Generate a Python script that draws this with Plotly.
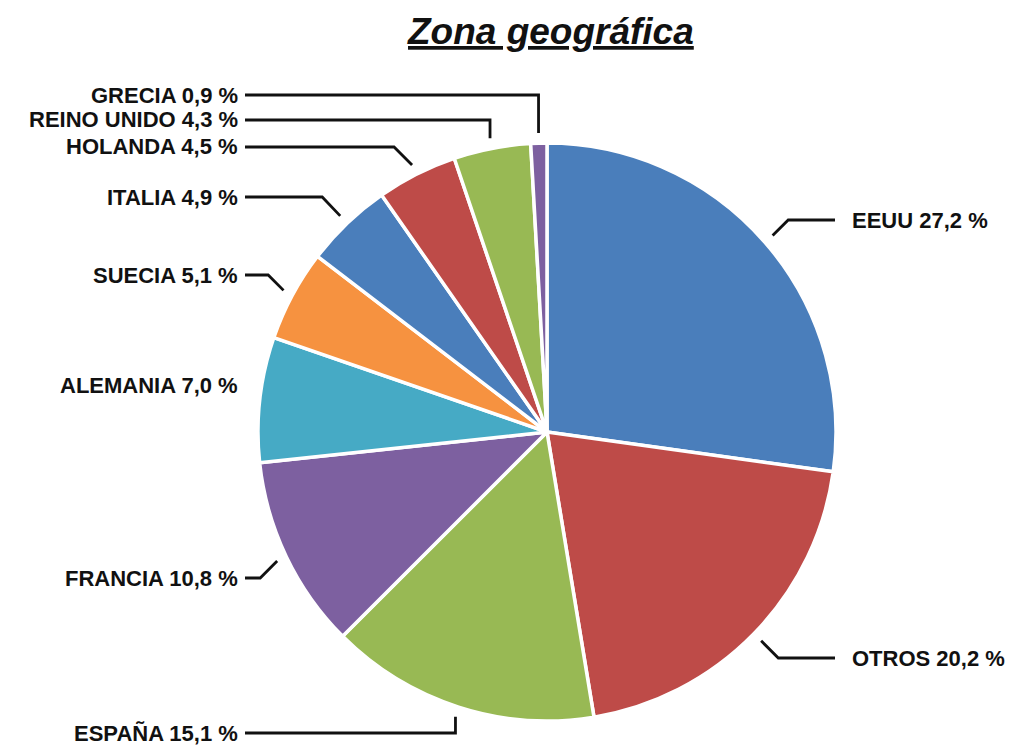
import math
import plotly.graph_objects as go

# ---- data ----
categories = ["EEUU", "OTROS", "ESPAÑA", "FRANCIA", "ALEMANIA", "SUECIA",
              "ITALIA", "HOLANDA", "REINO UNIDO", "GRECIA"]
values = [27.2, 20.2, 15.1, 10.8, 7.0, 5.1, 4.9, 4.5, 4.3, 0.9]
value_labels = ["27,2", "20,2", "15,1", "10,8", "7,0", "5,1", "4,9", "4,5", "4,3", "0,9"]

# ---- layout / style ----
W, H = 1015, 745
OFF = 8                              # browser body margin compensation
colors = ["#4A7EBB", "#BE4B48", "#98B954", "#7D60A0", "#46AAC5", "#F69240",
          "#4A7EBB", "#BE4B48", "#98B954", "#7D60A0"]
CX, CY, R = 547, 432, 289          # pie centre / radius in pixels
label_y = [220, 658, 733, 578, 385, 275, 197, 147, 120, 95]   # label row (px)
show_line = [True, True, True, True, False, True, True, True, True, True]
LEFT_X, RIGHT_X = 240, 850
FONT = "Liberation Sans, Arial, sans-serif"

def px(x):
    return (x - OFF) / W

def py(y):
    return 1 - (y - OFF) / H

fig = go.Figure(go.Pie(
    labels=categories, values=values, sort=False, direction="clockwise",
    rotation=0, textinfo="none", hoverinfo="label+percent",
    marker=dict(colors=colors, line=dict(color="white", width=3.5)),
    domain=dict(x=[px(CX - R), px(CX + R)], y=[py(CY + R), py(CY - R)]),
    showlegend=False,
))

total = sum(values)
cum = 0.0
shapes, annotations = [], []
for name, v, vl, ly, sl in zip(categories, values, value_labels, label_y, show_line):
    mid = (cum + v / 2) / total * 2 * math.pi
    cum += v
    ax = CX + R * 1.035 * math.sin(mid)
    ay = CY - R * 1.035 * math.cos(mid)
    right = math.sin(mid) > 0
    text = f"<b>{name} {vl} %</b>"
    if right:
        annotations.append(dict(x=px(RIGHT_X), y=py(ly), xref="paper", yref="paper",
                                text=text, showarrow=False, xanchor="left", yanchor="middle",
                                font=dict(family=FONT, size=22, color="#111")))
        start = RIGHT_X - 15
    else:
        annotations.append(dict(x=px(LEFT_X), y=py(ly), xref="paper", yref="paper",
                                text=text, showarrow=False, xanchor="right", yanchor="middle",
                                font=dict(family=FONT, size=22, color="#111")))
        start = LEFT_X + 5
    if sl:
        dy = abs(ay - ly)
        off = min(dy * 0.6, 18) if dy > 25 else min(dy, 18)
        if abs(ax - CX) < 15 or dy < 30 and abs(math.cos(mid)) > 0.9:
            off = 0
        ex = ax + off if right else ax - off
        if (right and ex > start) or (not right and ex < start):
            ex = start
        path = f"M {px(start)} {py(ly)} L {px(ex)} {py(ly)} L {px(ax)} {py(ay)}"
        shapes.append(dict(type="path", xref="paper", yref="paper", path=path,
                           line=dict(color="#111", width=2.8)))

annotations.append(dict(x=px(550), y=py(31), xref="paper", yref="paper",
                        text="<b><i><u>Zona geográfica</u></i></b>", showarrow=False,
                        xanchor="center", yanchor="middle",
                        font=dict(family=FONT, size=37, color="#111")))

fig.update_layout(width=W, height=H, margin=dict(l=0, r=0, t=0, b=0),
                  paper_bgcolor="white", plot_bgcolor="white",
                  shapes=shapes, annotations=annotations)
fig.write_html("out.html")
